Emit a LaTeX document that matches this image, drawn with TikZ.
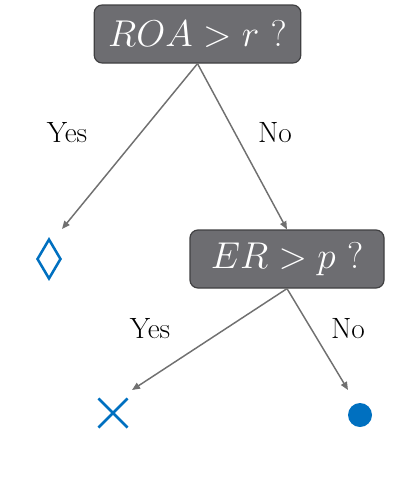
\RequirePackage{fix-cm}
\documentclass[tikz,border=0pt]{standalone}
\usepackage{tikz}
\usetikzlibrary{arrows.meta,positioning,shapes.geometric,shapes.misc}
\definecolor{boxgray}{RGB}{109,109,113}
\definecolor{boxedge}{RGB}{64,64,66}
\definecolor{arrgray}{RGB}{112,112,112}
\definecolor{leafblue}{RGB}{0,112,192}

\begin{document}
\begin{tikzpicture}[
      x=0.75pt, y=-0.75pt,
      every node/.style={font=\fontsize{22}{26}\selectfont},
      test/.style={rectangle, rounded corners=6pt, draw=boxedge, fill=boxgray,
                   line width=0.9pt, minimum height=43.5pt, align=center,
                   text=white, font=\fontsize{28}{32}\selectfont},
      arr/.style={-{Triangle[length=6pt,width=5pt]}, arrgray, line width=1.1pt},
      leaf/.style={draw=leafblue, line width=1.9pt, inner sep=0pt},
    ]
    \useasboundingbox (0,0) rectangle (413,482);

    % Tests
    \node[test, minimum width=155pt] (roa) at (197.5,34) {$ROA > r\ ?$};
    \node[test, minimum width=145.5pt] (er) at (287,259) {$ER > p\ ?$};

    % Leaves
    \node[leaf, diamond, minimum width=18pt, minimum height=30pt] (diam) at (49,259) {};
    \node[leaf, cross out, minimum size=20pt] (cross) at (113,413) {};
    \node[circle, fill=leafblue, inner sep=0pt, minimum size=18pt] (dot) at (360,415) {};

    % Arrow ends
    \coordinate (yesA) at (62,229);
    \coordinate (yesB) at (132,390);
    \coordinate (noB) at (348,390);

    % Arrows
    \draw[arr] (roa.south) -- (yesA);
    \draw[arr] (roa.south) -- (er.north);
    \draw[arr] (er.south) -- (yesB);
    \draw[arr] (er.south) -- (noB);

    % Labels
    \node (l1) at (67,133) {Yes};
    \node (l2) at (275,133) {No};
    \node (l3) at (150,329) {Yes};
    \node (l4) at (348,329) {No};
  \end{tikzpicture}
\end{document}
